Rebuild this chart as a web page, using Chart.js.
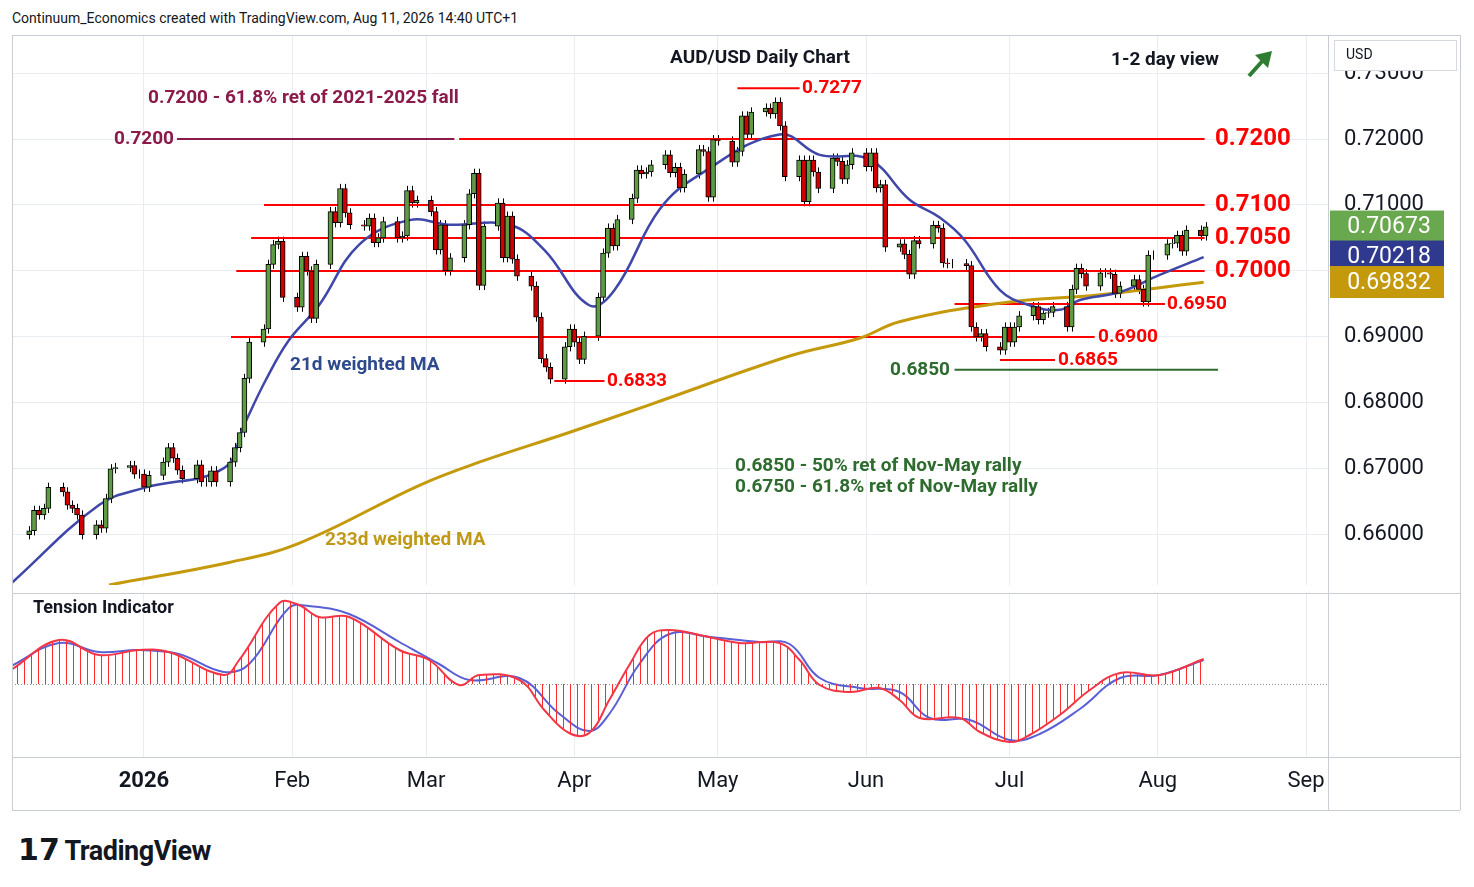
<!DOCTYPE html>
<html><head><meta charset="utf-8">
<script src="https://cdn.jsdelivr.net/npm/chart.js@4.4.0/dist/chart.umd.min.js"></script>
<style>
body{margin:0;background:#fff;width:1474px;height:887px;overflow:hidden;font-family:Roboto,"Noto Sans",sans-serif}
canvas{position:absolute;left:0}
#t{position:absolute;left:12px;top:10px;font-size:14px;color:#131722}
#logo{position:absolute;left:18px;top:832px;font-size:27px;font-weight:bold;color:#131722;letter-spacing:-0.5px}
</style></head><body>
<div id="t">Continuum_Economics created with TradingView.com, Aug 11, 2026 14:40 UTC+1</div>
<canvas id="c1" width="1474" height="615" style="top:0"></canvas>
<canvas id="c2" width="1474" height="230" style="top:585px"></canvas>
<div id="logo"><span style="font-size:30px">𝟭𝟳</span> TradingView</div>
<script>
// ---------- data ----------
const firstOpen = 0.6600;
const closes = [0.6606,0.6637,0.6630,0.6640,0.6672,0.6665,0.6645,0.6640,0.6630,0.6600,0.6615,0.6610,0.6655,0.6700,0.6702,0.6705,0.6692,0.6692,0.6672,0.6690,0.6710,0.6732,0.6716,0.6698,0.6685,0.6706,0.6680,0.6680,0.6697,0.6680,
0.6710,0.6732,0.6755,0.6837,0.6892,0.6912,0.7010,0.7040,0.7045,0.6960,0.6945,0.7022,0.7000,0.6928,0.7010,0.7090,0.7073,0.7125,
0.7088,0.7070,0.7068,0.7080,0.7043,0.7050,0.7075,0.7050,0.7053,0.7122,0.7103,0.7107,0.7090,0.7032,0.7070,0.7000,0.7020,0.7070,0.7117,0.7148,0.6978,0.7068,0.7103,0.7020,0.7083,0.7018,0.6992,0.6977,0.6930,0.6867,0.6854,0.6836,0.6885,0.6912,0.6892,0.6866,0.6901,0.6960,0.7027,0.7065,0.7038,0.7078,0.7110,0.7153,0.7147,0.7150,0.7161,
0.7176,0.7149,0.7157,0.7126,0.7147,0.7184,0.7181,0.7112,0.7199,0.7197,0.7165,0.7181,0.7235,0.7207,0.7241,0.7247,0.7238,0.7256,0.7220,0.7143,0.7168,0.7105,0.7168,0.7150,0.7125,0.7171,0.7166,0.7139,0.7161,0.7179,0.7158,0.7179,0.7126,0.7131,0.7036,0.7041,0.7025,0.6995,0.7046,0.7041,0.7069,0.7065,0.7012,0.7011,0.7011,0.7008,
0.6915,0.6900,0.6905,0.6885,0.6880,0.6915,0.6892,0.6915,0.6932,0.6946,0.6926,0.6936,0.6937,0.6946,0.6915,0.6972,0.7004,0.6996,0.6977,0.6997,0.6997,0.6995,0.6966,0.6977,0.6987,0.6972,0.6953,0.7024,0.7024,0.7041,0.7042,0.7054,0.7030,0.7062,0.7053,0.7067];
const ma21Days = [-27.8,-9.4,0,16.7,20.9,25.5,30.3,36.6,45,55.5,63.8,76.4,83.7,93.1,98.4,107.8,116.2,132.9,141.3,151.7,160.1,166.4,171.6,179,185.2,191.5,195.7,204.1,212.4,221.6];
const ma21Vals = [0.6526,0.6645,0.6671,0.6701,0.6766,0.6835,0.6895,0.6948,0.7040,0.7077,0.7070,0.7070,0.7032,0.6948,0.6971,0.7093,0.7146,0.7207,0.7176,0.7169,0.7108,0.7081,0.7047,0.6971,0.6948,0.6941,0.6956,0.6968,0.6994,0.7021];
const ma233Days = [-7.3,17.8,32.4,57.6,70.1,88.9,105.7,135,149.6,158,179,199.9,221.6];
const ma233Vals = [0.6524,0.6558,0.6587,0.6675,0.6710,0.6755,0.6797,0.6871,0.6898,0.6923,0.6951,0.6964,0.6983];
const tiDays = [-27.8,-17.8,-9.4,-1,5.2,16.7,19.9,28.3,32.4,36.6,42.9,53.4,59.6,65.9,70.1,78.5,83.7,88.9,93.1,97.3,101.5,105.7,109.9,116.2,124.5,132.9,137.1,141.3,147.6,153.8,158,162.2,170.6,174.8,181,185.2,191.5,197.8,204.1,212.4,221.6];
const tiFast = [14,44,29,34,32,9,24,81,79,67,67,34,24,-1,9,4,-26,-49,-49,-16,19,49,54,49,41,41,24,-1,-8,-4,-16,-34,-34,-48,-58,-51,-31,-6,11,9,25];
const tiSlowDays = [-27.8,-17.8,-9.4,-1,7.3,16.7,22,30.3,34.5,42.9,53.4,61.7,68,78.5,86.9,93.1,97.3,103.6,109.9,118.3,128.7,135,141.3,149.6,158,164.3,172.7,181,187.3,195.7,204.1,212.4,221.6];
const tiSlow = [18,41,32,34,30,12,20,76,78,70,42,20,4,6,-30,-47,-30,20,50,47,42,40,6,-4,-8,-34,-36,-56,-50,-25,6,9,24];
const monthDays = [0,31,59,90,120,151,181,212,243];
const monthLabels = ['2026','Feb','Mar','Apr','May','Jun','Jul','Aug','Sep'];
const priceTicks = [0.66,0.67,0.68,0.69,0.70,0.71,0.72,0.73];
const levels = [ // [price, fromDay, toDay, color]
 [0.7200,65.9,221.8,'#ff0000'],[0.7100,25.1,221.8,'#ff0000'],[0.7050,22.4,221.8,'#ff0000'],[0.7000,19.3,221.8,'#ff0000'],
 [0.6950,169.5,213.5,'#ff0000'],[0.6900,18.2,198.8,'#ff0000'],[0.6865,179,190.5,'#ff0000'],[0.6833,85.8,96.3,'#ff0000'],
 [0.7277,124.1,137.1,'#ff0000'],[0.7200,6.9,64.9,'#8b1a4a'],[0.6850,169.5,224.6,'#2e6b2e']];

const days=[]; for(let d=222; days.length<closes.length; d--){const w=((d+24)%7+7)%7; if(w<5) days.unshift(d);}
const opens = closes.map((c,i)=> i===0?firstOpen:closes[i-1]);
const XMIN=-27.6, XMAX=247.6;
const F='Roboto, "Noto Sans", sans-serif';

const candle = days.map((d,i)=>({x:d,y:[opens[i],closes[i]]}));
const colors = closes.map((c,i)=> c>=opens[i]?'#5e9b43':'#d10000');

const wickPlugin={id:'wick',beforeDatasetsDraw(ch){
  const ctx=ch.ctx,x=ch.scales.x,y=ch.scales.y;ctx.save();ctx.strokeStyle='#000';ctx.lineWidth=1;
  days.forEach((d,i)=>{const hi=Math.max(opens[i],closes[i])+0.0007,lo=Math.min(opens[i],closes[i])-0.0007;
    const px=Math.round(x.getPixelForValue(d))+0.5;ctx.beginPath();ctx.moveTo(px,y.getPixelForValue(hi));ctx.lineTo(px,y.getPixelForValue(lo));ctx.stroke();});
  ctx.lineWidth=2;
  levels.forEach(l=>{ctx.strokeStyle=l[3];const py=y.getPixelForValue(l[0]);ctx.beginPath();ctx.moveTo(x.getPixelForValue(l[1]),py);ctx.lineTo(x.getPixelForValue(l[2]),py);ctx.stroke();});
  ctx.restore();}};

function txt(ctx,s,x,y,col,size,align,bold=true){ctx.fillStyle=col;ctx.font=(bold?'bold ':'')+size+'px '+F;ctx.textAlign=align||'left';ctx.textBaseline='middle';ctx.fillText(s,x,y);}
const annoPlugin={id:'anno',afterDraw(ch){
  const ctx=ch.ctx,y=ch.scales.y;ctx.save();
  [['0.7200',0.72],['0.7100',0.71],['0.7050',0.705],['0.7000',0.70]].forEach(a=>txt(ctx,a[0],1215,y.getPixelForValue(a[1]),'#ff0000',24,'left'));
  txt(ctx,'0.6950',1167,y.getPixelForValue(0.695),'#ff0000',19);
  txt(ctx,'0.6900',1098,y.getPixelForValue(0.690),'#ff0000',19);
  txt(ctx,'0.6865',1058,y.getPixelForValue(0.6865),'#ff0000',19);
  txt(ctx,'0.6833',607,y.getPixelForValue(0.6833),'#ff0000',19);
  txt(ctx,'0.7277',802,y.getPixelForValue(0.7277),'#ff0000',19);
  txt(ctx,'0.7200',174,y.getPixelForValue(0.72),'#8b1a4a',19,'right');
  txt(ctx,'0.7200 - 61.8% ret of 2021-2025 fall',148,98,'#8b1a4a',19);
  txt(ctx,'0.6850',950,y.getPixelForValue(0.685),'#2e6b2e',19,'right');
  txt(ctx,'0.6850 - 50% ret of Nov-May rally',735,466,'#2e6b2e',19);
  txt(ctx,'0.6750 - 61.8% ret of Nov-May rally',735,487,'#2e6b2e',19);
  txt(ctx,'AUD/USD Daily Chart',760,58,'#131722',19,'center');
  txt(ctx,'1-2 day view',1165,60,'#131722',19,'center');
  txt(ctx,'21d weighted MA',290,365,'#2e4a8c',19);
  txt(ctx,'233d weighted MA',325,540,'#c09a16',19);
  ctx.strokeStyle='#2e7d32';ctx.fillStyle='#2e7d32';ctx.lineWidth=4;ctx.beginPath();ctx.moveTo(1249,76);ctx.lineTo(1266,57);ctx.stroke();
  ctx.beginPath();ctx.moveTo(1272,51);ctx.lineTo(1255,55);ctx.lineTo(1268,68);ctx.closePath();ctx.fill();
  [['0.70673',0.70673,'#6aa84f'],['0.70218',0.70218,'#2f3a8f'],['0.69832',0.69832,'#c49a0c']].forEach(b=>{
    const py=y.getPixelForValue(b[1]);ctx.fillStyle=b[2];ctx.fillRect(1330,py-16,114,32);txt(ctx,b[0],1389,py+1,'#fff',23,'center',false);});
  ctx.fillStyle='#fff';ctx.fillRect(1334,40,122,30);ctx.strokeStyle='#d6d9e0';ctx.lineWidth=1;ctx.strokeRect(1334.5,40.5,122,30);
  txt(ctx,'USD',1346,55,'#131722',14,'left',false);
  ctx.strokeStyle='#c8ccd4';ctx.beginPath();ctx.moveTo(1328.5,35);ctx.lineTo(1328.5,600);ctx.moveTo(12.5,35);ctx.lineTo(12.5,600);ctx.moveTo(12,35.5);ctx.lineTo(1460,35.5);ctx.moveTo(1460.5,35);ctx.lineTo(1460.5,600);ctx.stroke();
  ctx.restore();}};

const gridMonths = s=>{s.ticks=monthDays.map(v=>({value:v}));};
new Chart(document.getElementById('c1'),{
  data:{datasets:[
    {type:'line',data:ma233Days.map((d,i)=>({x:d,y:ma233Vals[i]})),borderColor:'#c49a0c',borderWidth:3,pointRadius:0,tension:0.4,order:3},
    {type:'line',data:ma21Days.map((d,i)=>({x:d,y:ma21Vals[i]})),borderColor:'#3f47a8',borderWidth:2.5,pointRadius:0,tension:0.4,order:2},
    {type:'bar',data:candle,backgroundColor:colors,borderColor:'#000',borderWidth:1,borderSkipped:false,barThickness:5,grouped:false,order:1}
  ]},
  options:{responsive:false,animation:false,events:[],
    layout:{padding:{left:12,top:35,bottom:0,right:0}},
    plugins:{legend:{display:false},tooltip:{enabled:false}},
    scales:{
      x:{type:'linear',offset:false,min:XMIN,max:XMAX,afterBuildTicks:gridMonths,ticks:{display:false},grid:{color:'#e9edf3',drawTicks:false,offset:false},border:{display:false},afterFit:s=>{s.height=0;}},
      y:{position:'right',min:0.65226,max:0.73577,afterBuildTicks:s=>{s.ticks=priceTicks.map(v=>({value:v}));},
        ticks:{color:'#131722',font:{size:22,family:F},padding:16,callback:v=>v.toFixed(5)},grid:{color:'#e9edf3',drawTicks:false},border:{display:false},afterFit:s=>{s.width=146;}}
    }},
  plugins:[wickPlugin,annoPlugin]});

const pc=document.createElement('canvas');pc.width=7;pc.height=10;const pctx=pc.getContext('2d');
pctx.fillStyle='#ff2a2a';pctx.fillRect(3,0,1,10);
const pattern=document.getElementById('c2').getContext('2d').createPattern(pc,'repeat');
const indPlugin={id:'ind',beforeDatasetsDraw(ch){const ctx=ch.ctx,y=ch.scales.y,a=ch.chartArea;ctx.save();ctx.strokeStyle='#8a8f99';ctx.setLineDash([1,2]);ctx.lineWidth=1;
  const py=Math.round(y.getPixelForValue(0))+0.5;ctx.beginPath();ctx.moveTo(a.left,py);ctx.lineTo(a.right,py);ctx.stroke();ctx.restore();},
 afterDraw(ch){const ctx=ch.ctx;ctx.save();
  ctx.fillStyle='#fff';ctx.fillRect(12,0,1449,8);
  txt(ctx,'Tension Indicator',33,23,'#131722',18);
  ctx.strokeStyle='#c8ccd4';ctx.lineWidth=1;ctx.beginPath();ctx.moveTo(12,8.5);ctx.lineTo(1460,8.5);ctx.moveTo(12,172.5);ctx.lineTo(1460,172.5);
  ctx.moveTo(1328.5,0);ctx.lineTo(1328.5,225);ctx.moveTo(12.5,0);ctx.lineTo(12.5,225);ctx.moveTo(1460.5,0);ctx.lineTo(1460.5,225);ctx.moveTo(12,225.5);ctx.lineTo(1460,225.5);ctx.stroke();
  const x=ch.scales.x;monthDays.forEach((d,i)=>txt(ctx,monthLabels[i],x.getPixelForValue(d),196,'#131722',22,'center',i===0));
  ctx.restore();}};
new Chart(document.getElementById('c2'),{
  data:{datasets:[
    {type:'line',data:tiDays.map((d,i)=>({x:d,y:tiFast[i]})),borderColor:'#f23645',borderWidth:2,pointRadius:0,tension:0.4,fill:'origin',backgroundColor:pattern},
    {type:'line',data:tiSlowDays.map((d,i)=>({x:d,y:tiSlow[i]})),borderColor:'#5b5fd6',borderWidth:2,pointRadius:0,tension:0.4}
  ]},
  options:{responsive:false,animation:false,events:[],
    layout:{padding:{left:12,top:5,bottom:58,right:0}},
    plugins:{legend:{display:false},tooltip:{enabled:false}},
    scales:{
      x:{type:'linear',min:XMIN,max:XMAX,afterBuildTicks:gridMonths,ticks:{display:false},grid:{color:'#e9edf3',drawTicks:false},border:{display:false},afterFit:s=>{s.height=0;}},
      y:{position:'right',min:-73,max:94,ticks:{display:false},grid:{display:false},border:{display:false},afterFit:s=>{s.width=146;}}
    }},
  plugins:[indPlugin]});
</script></body></html>
